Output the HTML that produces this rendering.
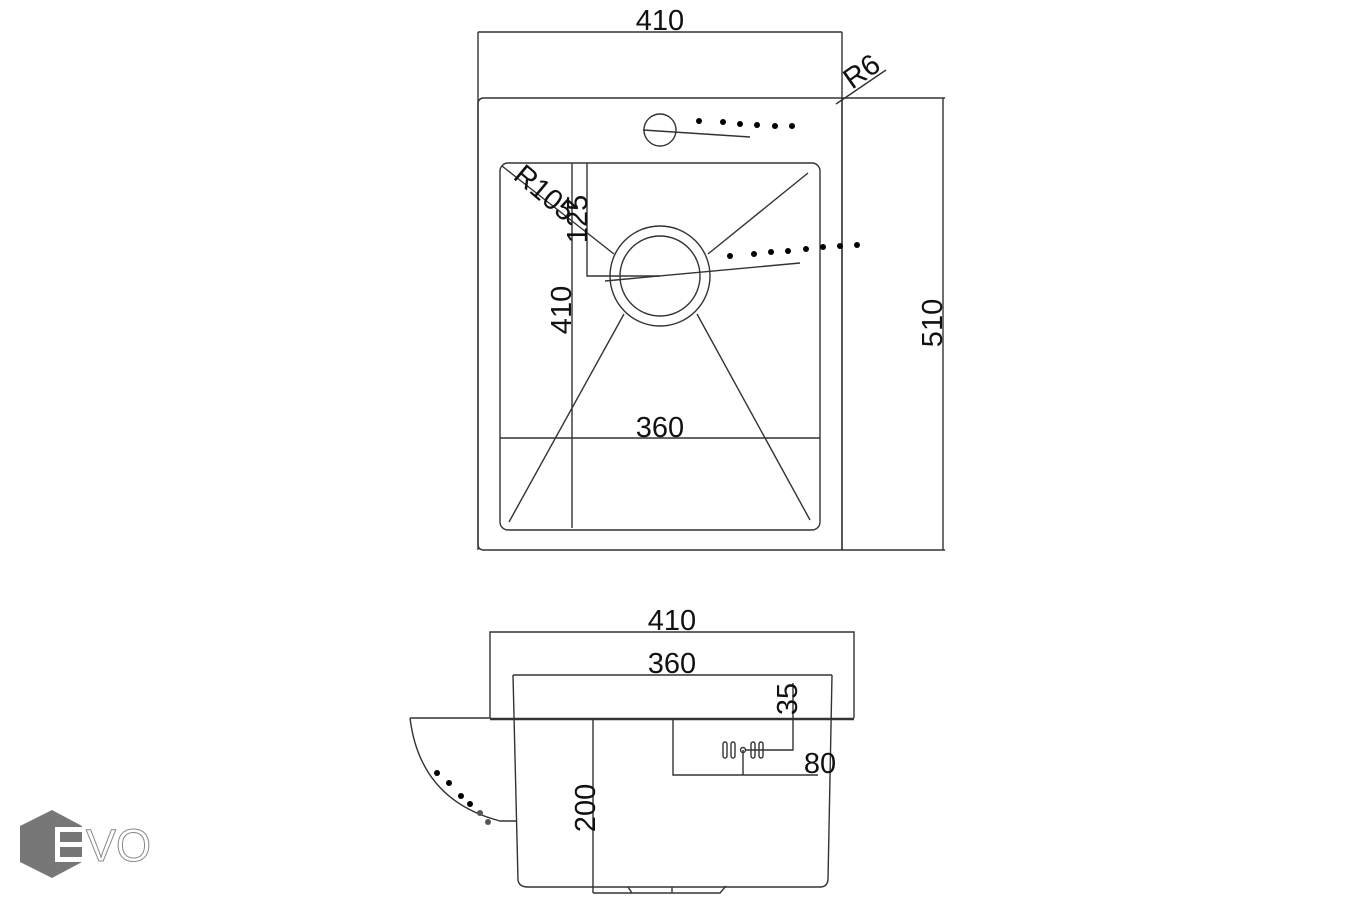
<!DOCTYPE html>
<html><head><style>html,body{margin:0;padding:0;background:#fff}svg{display:block}</style></head><body>
<svg width="1350" height="900" viewBox="0 0 1350 900" xmlns="http://www.w3.org/2000/svg" font-family="Liberation Sans, sans-serif">
<g stroke="#333" stroke-width="1.4" fill="none">
<line x1="478" y1="32" x2="842" y2="32"/>
<line x1="478" y1="32" x2="478" y2="550"/>
<line x1="842" y1="32" x2="842" y2="550"/>
<path d="M484 98 H842 V550 H484 Q478 550 478 544 V104 Q478 98 484 98 Z"/>
<line x1="842" y1="98" x2="945" y2="98"/>
<line x1="842" y1="550" x2="945" y2="550"/>
<line x1="943" y1="98" x2="943" y2="550"/>
<line x1="836" y1="104" x2="886" y2="70"/>
<circle cx="660" cy="130" r="16"/>
<line x1="643" y1="130" x2="750" y2="137"/>
<rect x="500" y="163" width="320" height="367" rx="8"/>
<line x1="572" y1="163" x2="572" y2="528"/>
<polyline points="587,163 587,276 660,276"/>
<line x1="605" y1="281" x2="800" y2="263"/>
<line x1="500" y1="438" x2="820" y2="438"/>
<circle cx="660" cy="276" r="50"/>
<circle cx="660" cy="276" r="40"/>
<line x1="502" y1="166" x2="614" y2="254"/>
<line x1="808" y1="173" x2="708" y2="254"/>
<line x1="624" y1="314" x2="509" y2="522"/>
<line x1="697" y1="314" x2="810" y2="520"/>
<polyline points="490,718 490,632 854,632 854,718"/>
<line x1="490" y1="719" x2="854" y2="719" stroke-width="2.5"/>
<line x1="513" y1="675" x2="832" y2="675"/>
<path d="M513 675 L518 880 Q519 887 528 887 H820 Q827 887 828 880 L832 675"/>
<line x1="593" y1="718" x2="593" y2="893"/>
<path d="M593 893 H720 L726 886 M628 887 L632 893 M672 887 V893"/>
<polyline points="673,720 673,775 818,775"/>
<polyline points="793,683 793,750 745,750"/>
<line x1="743" y1="750" x2="743" y2="775"/>
<rect x="723" y="742" width="4" height="16" rx="2"/>
<rect x="731" y="742" width="4" height="16" rx="2"/>
<rect x="751" y="742" width="4" height="16" rx="2"/>
<rect x="759" y="742" width="4" height="16" rx="2"/>
<circle cx="743" cy="750" r="2.5"/>
<path d="M410 718 H490 M410 718 Q420 800 500 821 H517"/>
</g>
<g fill="#000">
<circle cx="699" cy="121" r="3"/><circle cx="723" cy="122" r="3"/><circle cx="740" cy="124" r="3"/><circle cx="757" cy="125" r="3"/><circle cx="775" cy="126" r="3"/><circle cx="792" cy="126" r="3"/>
<circle cx="730" cy="256" r="3"/><circle cx="754" cy="254" r="3"/><circle cx="771" cy="252" r="3"/><circle cx="788" cy="251" r="3"/><circle cx="806" cy="249" r="3"/><circle cx="823" cy="247" r="3"/><circle cx="840" cy="246" r="3"/><circle cx="857" cy="245" r="3"/>
<circle cx="437" cy="773" r="3"/><circle cx="449" cy="783" r="3"/><circle cx="461" cy="796" r="3"/><circle cx="470" cy="804" r="3"/><circle cx="480" cy="813" r="3" fill="#555"/><circle cx="488" cy="822" r="3" fill="#555"/>
</g>
<g fill="#111" font-size="29">
<text x="660" y="30" text-anchor="middle">410</text>
<text x="660" y="437" text-anchor="middle">360</text>
<text x="672" y="630" text-anchor="middle">410</text>
<text x="672" y="673" text-anchor="middle">360</text>
<text x="820" y="773" text-anchor="middle">80</text>
<text transform="translate(942,323) rotate(-90)" text-anchor="middle">510</text>
<text transform="translate(571,310) rotate(-90)" text-anchor="middle">410</text>
<text transform="translate(587,219) rotate(-90)" text-anchor="middle">125</text>
<text transform="translate(797,699) rotate(-90)" text-anchor="middle">35</text>
<text transform="translate(595,808) rotate(-90)" text-anchor="middle">200</text>
<text transform="translate(852,90) rotate(-35)">R6</text>
<text transform="translate(512,178) rotate(40)">R105</text>
</g>
<polygon points="52,810 82,826 82,862 52,878 20,862 20,826" fill="#777"/>
<g fill="#fff"><rect x="55" y="827" width="28" height="5"/><rect x="55" y="842" width="28" height="5"/><rect x="55" y="857" width="28" height="5"/><rect x="55" y="832" width="5" height="25"/></g>
<text x="86" y="861" font-size="45" fill="none" stroke="#888" stroke-width="1">VO</text>
</svg>
</body></html>
